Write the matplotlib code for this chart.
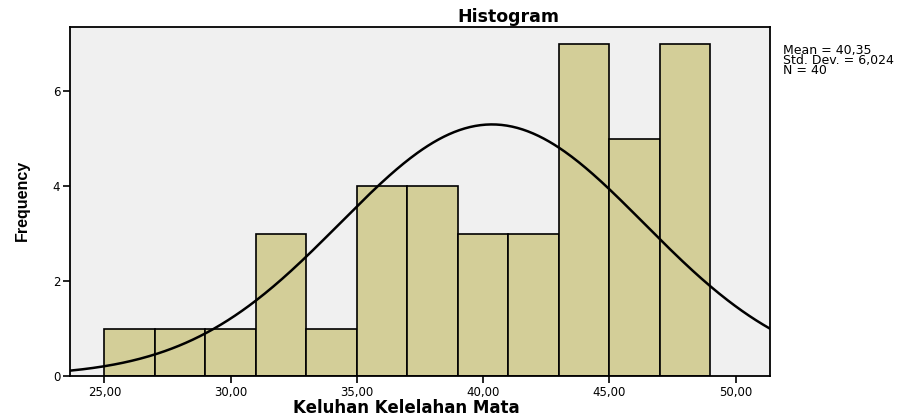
import numpy as np
import matplotlib
matplotlib.use("Agg")
import matplotlib.pyplot as plt

plt.rcParams["font.family"] = ["DejaVu Sans"]

bin_edges = [25, 27, 29, 31, 33, 35, 37, 39, 41, 43, 45, 47, 49]
counts = [1, 1, 1, 3, 1, 4, 4, 3, 3, 7, 5, 7]
mean = 40.35
std_dev = 6.024
n = 40
x_ticks = [25, 30, 35, 40, 45, 50]
x_tick_labels = ["25,00", "30,00", "35,00", "40,00", "45,00", "50,00"]
y_ticks = [0, 2, 4, 6]

fig = plt.figure(figsize=(9.24, 4.19), dpi=100)
ax = fig.add_axes([0.0758, 0.1026, 0.7575, 0.833])
ax.set_facecolor("#F0F0F0")

widths = np.diff(bin_edges)
ax.bar(bin_edges[:-1], counts, width=widths, align="edge",
       color="#D3CE98", edgecolor="black", linewidth=1.2, zorder=2)

# normal curve scaled to the counts
xmin, xmax = 23.64, 51.36
xs = np.linspace(xmin, xmax, 400)
bw = widths[0]
ys = n * bw / (std_dev * np.sqrt(2 * np.pi)) * np.exp(-0.5 * ((xs - mean) / std_dev) ** 2)
ax.plot(xs, ys, color="black", linewidth=1.8, zorder=3)

ax.set_xlim(xmin, xmax)
ax.set_ylim(0, 7.35)
ax.set_xticks(x_ticks)
ax.set_xticklabels(x_tick_labels, fontsize=8.5)
ax.set_yticks(y_ticks)
ax.set_yticklabels([str(v) for v in y_ticks], fontsize=8.5)
ax.tick_params(direction="out", length=5, width=1.2, pad=2)
for s in ax.spines.values():
    s.set_linewidth(1.3)

fig.text(508 / 924, 1 - 17 / 419, "Histogram", fontsize=12.5, fontweight="bold",
         ha="center", va="center")
ax.set_xlabel("Keluhan Kelelahan Mata", fontsize=12, fontweight="bold")
ax.xaxis.set_label_coords(0.481, -0.066)
ax.set_ylabel("Frequency", fontsize=11.5, fontweight="bold",
              family=["Liberation Sans", "DejaVu Sans"])
ax.yaxis.set_label_coords(-0.058, 0.504)

fig.text(0.847, 0.895, "Mean = 40,35\nStd. Dev. = 6,024\nN = 40",
         fontsize=9, va="top", ha="left", linespacing=0.7)

fig.savefig("out.png", dpi=100)
